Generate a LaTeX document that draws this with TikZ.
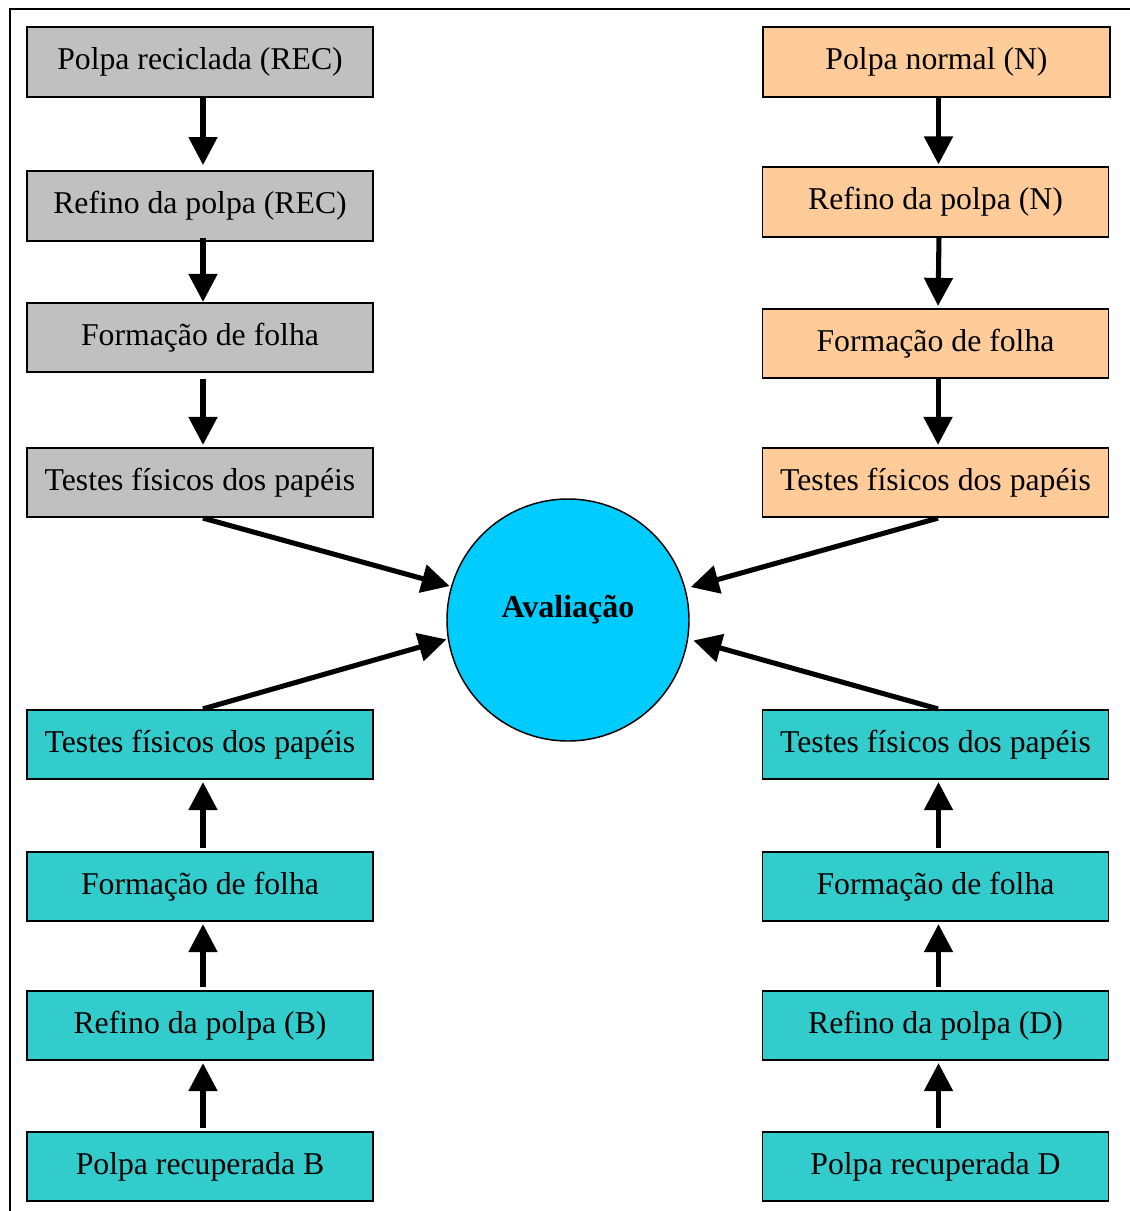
\documentclass[tikz,border=0pt]{standalone}
\usepackage{fontspec}
\setmainfont{Liberation Serif}
\usetikzlibrary{arrows.meta}
\definecolor{recgray}{HTML}{C0C0C0}
\definecolor{norange}{HTML}{FFCC99}
\definecolor{recteal}{HTML}{33CCCC}
\definecolor{avlblue}{HTML}{00CCFF}
\tikzset{
  boxbase/.style={draw=black, line width=1.4pt, minimum width=259.5pt, minimum height=52pt, inner sep=0pt, font=\fontsize{23.8}{28}\selectfont},
  graybox/.style={boxbase, fill=recgray},
  orangebox/.style={boxbase, fill=norange},
  tealbox/.style={boxbase, fill=recteal},
  flow/.style={line width=3.8pt, -{Triangle[length=21pt,width=21pt]}},
}
\begin{document}
\begin{tikzpicture}[x=0.75pt,y=-0.75pt]
\useasboundingbox (0,0) rectangle (1130,1211);
\draw[line width=1.5pt] (10,1211) -- (10,9) -- (1130,9);
% left grey column
\node[graybox] (l1) at (200,62) {Polpa reciclada (REC)};
\node[graybox] (l2) at (200,206) {Refino da polpa (REC)};
\node[graybox] (l3) at (200,337.5) {Formação de folha};
\node[graybox] (l4) at (200,482.5) {Testes físicos dos papéis};
% right orange column
\node[orangebox, minimum width=260.5pt] (r1) at (936.5,62) {Polpa normal (N)};
\node[orangebox] (r2) at (935.5,202) {Refino da polpa (N)};
\node[orangebox] (r3) at (935.5,343.5) {Formação de folha};
\node[orangebox] (r4) at (935.5,482.5) {Testes físicos dos papéis};
% bottom left teal
\node[tealbox] (bl4) at (200,744.5) {Testes físicos dos papéis};
\node[tealbox] (bl3) at (200,886.5) {Formação de folha};
\node[tealbox] (bl2) at (200,1025.5) {Refino da polpa (B)};
\node[tealbox] (bl1) at (200,1166.5) {Polpa recuperada B};
% bottom right teal
\node[tealbox] (br4) at (935.5,744.5) {Testes físicos dos papéis};
\node[tealbox] (br3) at (935.5,886.5) {Formação de folha};
\node[tealbox] (br2) at (935.5,1025.5) {Refino da polpa (D)};
\node[tealbox] (br1) at (935.5,1166.5) {Polpa recuperada D};
% centre circle
\node[circle, draw=black, line width=1.1pt, fill=avlblue, minimum size=181.5pt, inner sep=0pt,
      label={[font=\fontsize{24}{28}\selectfont\bfseries, yshift=7.5pt]center:Avaliação}] (avl) at (568,620) {};
% vertical arrows left
\draw[flow, shorten >=4pt] ([xshift=2.25pt]l1.south) -- ([xshift=2.25pt]l2.north);
\draw[flow] ([xshift=2.25pt,yshift=3pt]l2.south) -- ([xshift=2.25pt]l3.north);
\draw[flow, shorten <=4.5pt, shorten >=1.5pt] ([xshift=2.25pt]l3.south) -- ([xshift=2.25pt]l4.north);
% vertical arrows right
\draw[flow, shorten >=1.5pt] ([xshift=1.5pt]r1.south) -- ([xshift=2.25pt]r2.north);
\draw[flow, shorten >=1.5pt] ([xshift=2.6pt]r2.south) -- ([xshift=1.9pt]r3.north);
\draw[flow, shorten >=1.5pt] ([xshift=1.9pt]r3.south) -- ([xshift=1.9pt]r4.north);
% vertical arrows bottom left (upwards)
\draw[flow, shorten <=2pt, shorten >=1.5pt] ([xshift=2.25pt]bl3.north) -- ([xshift=2.25pt]bl4.south);
\draw[flow, shorten <=2pt, shorten >=1.5pt] ([xshift=2.25pt]bl2.north) -- ([xshift=2.25pt]bl3.south);
\draw[flow, shorten <=2pt, shorten >=1.5pt] ([xshift=2.25pt]bl1.north) -- ([xshift=2.25pt]bl2.south);
% vertical arrows bottom right (upwards)
\draw[flow, shorten <=2pt, shorten >=1.5pt] ([xshift=2.25pt]br3.north) -- ([xshift=2.25pt]br4.south);
\draw[flow, shorten <=2pt, shorten >=1.5pt] ([xshift=2.25pt]br2.north) -- ([xshift=2.25pt]br3.south);
\draw[flow, shorten <=2pt, shorten >=1.5pt] ([xshift=2.25pt]br1.north) -- ([xshift=2.25pt]br2.south);
% diagonal arrows into the circle
\draw[flow, shorten >=1pt] ([xshift=2.25pt]l4.south) -- (avl.164);
\draw[flow, shorten >=1pt] ([xshift=2.25pt]bl4.north) -- (avl.189);
\draw[flow, shorten >=4pt] ([xshift=1.9pt]r4.south) -- (avl.15);
\draw[flow, shorten >=4pt] ([xshift=1.9pt]br4.north) -- (avl.-9);
\end{tikzpicture}
\end{document}
